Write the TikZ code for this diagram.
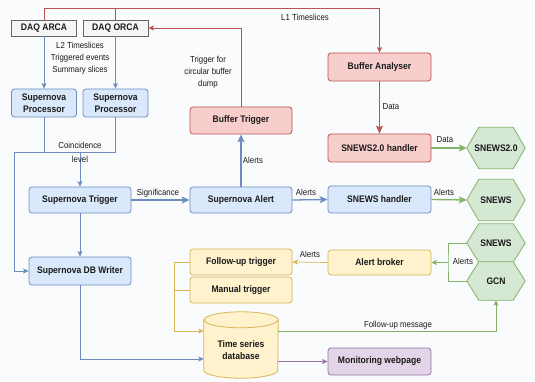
\documentclass[tikz,border=0pt]{standalone}
\usepackage{fontspec}
\setmainfont{Liberation Sans}
\newfontfamily\lblfont[FakeStretch=0.9]{Liberation Sans}
\usetikzlibrary{arrows.meta,calc}
\pgfdeclarelayer{bg}
\pgfsetlayers{bg,main}
\definecolor{blueF}{HTML}{DAE8FC}\definecolor{blueD}{HTML}{6C8EBF}
\definecolor{redF}{HTML}{F8CECC}\definecolor{redD}{HTML}{B85450}
\definecolor{greenF}{HTML}{D5E8D4}\definecolor{greenD}{HTML}{82B366}
\definecolor{yelF}{HTML}{FFF2CC}\definecolor{yelD}{HTML}{D6B656}
\definecolor{purF}{HTML}{E1D5E7}\definecolor{purD}{HTML}{9673A6}
\definecolor{grayF}{HTML}{F5F5F5}\definecolor{grayD}{HTML}{666666}
\definecolor{bgC}{HTML}{FAFBFC}
\definecolor{txt}{HTML}{1A1A1A}
\tikzset{
  boxfont/.style={font=\lblfont\bfseries\fontsize{9.5}{12}\selectfont},
  box/.style={draw, rounded corners=3pt, line width=0.8pt, boxfont, align=center, inner sep=1pt, text=txt},
  bluebox/.style={box, fill=blueF, draw=blueD},
  redbox/.style={box, fill=redF, draw=redD},
  yelbox/.style={box, fill=yelF, draw=yelD},
  purbox/.style={box, fill=purF, draw=purD},
  daq/.style={draw=grayD, fill=grayF, line width=0.8pt, boxfont, inner sep=1pt, text=txt, minimum width=65pt, minimum height=16pt},
  hexnode/.style={boxfont, inner sep=0pt, text=txt},
  hexdraw/.style={draw=greenD, fill=greenF, line width=0.8pt, line join=miter},
  lbl/.style={font=\lblfont\fontsize{8.7}{12}\selectfont, align=center, text=txt, inner sep=1pt},
  thin/.style={line width=0.7pt, -{Stealth[length=5.5pt,width=5pt,inset=1.2pt]}},
  thk/.style={line width=1.3pt, -{Stealth[length=8pt,width=7pt,inset=1.8pt]}},
  plain/.style={line width=0.7pt},
}
\begin{document}
\begin{tikzpicture}[x=1pt,y=-1pt]
\useasboundingbox (0,0) rectangle (535,382);

% nodes
\node[daq] (arca) at (44,28) {DAQ ARCA};
\node[daq] (orca) at (115.5,28) {DAQ ORCA};
\node[bluebox, minimum width=65pt, minimum height=28pt] (proc1) at (44,103) {Supernova\\Processor};
\node[bluebox, minimum width=65pt, minimum height=28pt] (proc2) at (115.5,103) {Supernova\\Processor};
\node[bluebox, minimum width=102pt, minimum height=26pt] (trigger) at (80,200) {Supernova Trigger};
\node[bluebox, minimum width=102pt, minimum height=26pt] (alert) at (241,200) {Supernova Alert};
\node[redbox, minimum width=102pt, minimum height=27pt] (buftrig) at (241,120.5) {Buffer Trigger};
\node[redbox, minimum width=103pt, minimum height=28pt] (bufan) at (379.5,67) {Buffer Analyser};
\node[redbox, minimum width=103pt, minimum height=28pt] (s2h) at (379.5,148) {SNEWS2.0 handler};
\node[bluebox, minimum width=103pt, minimum height=27pt] (snh) at (379.5,199.5) {SNEWS handler};
\node[yelbox, minimum width=103pt, minimum height=25pt] (brok) at (379.5,262.5) {Alert broker};
\node[yelbox, minimum width=102pt, minimum height=26pt] (fut) at (241,262) {Follow-up trigger};
\node[yelbox, minimum width=102pt, minimum height=26pt] (man) at (241,290) {Manual trigger};
\node[bluebox, minimum width=102pt, minimum height=28pt] (dbw) at (80,271) {Supernova DB Writer};
\node[purbox, minimum width=103pt, minimum height=27pt] (mon) at (379.5,361.5) {Monitoring webpage};

\node[hexnode, minimum width=58pt, minimum height=41pt] (hs2) at (496,148) {SNEWS2.0};
\node[hexnode, minimum width=58pt, minimum height=41pt] (hsn) at (496,200) {SNEWS};
\node[hexnode, minimum width=58pt, minimum height=38pt] (hsn2) at (496,243) {SNEWS};
\node[hexnode, minimum width=58pt, minimum height=38pt] (hgcn) at (496,281) {GCN};

\node[inner sep=0pt, minimum width=74pt, minimum height=66pt] (db) at (241,345) {};
\node[boxfont, align=center, text=txt, inner sep=0pt] (dbtext) at (241,350.5) {Time series\\database};

\begin{pgfonlayer}{bg}
\fill[bgC] (0,0) rectangle (535,382);
\foreach \h in {hs2,hsn,hsn2,hgcn}{
  \draw[hexdraw] (\h.west) -- ([xshift=12pt]\h.north west) -- ([xshift=-12pt]\h.north east)
    -- (\h.east) -- ([xshift=-12pt]\h.south east) -- ([xshift=12pt]\h.south west) -- cycle;
}
\draw[draw=yelD, fill=yelF, line width=0.8pt]
  ([yshift=-8pt]db.north west) -- ([yshift=8pt]db.south west)
  arc[start angle=180, end angle=360, x radius=37pt, y radius=8pt]
  -- ([yshift=-8pt]db.north east)
  arc[start angle=0, end angle=180, x radius=37pt, y radius=8pt] -- cycle;
\draw[draw=yelD, line width=0.8pt] ([yshift=-8pt]db.north west)
  arc[start angle=180, end angle=360, x radius=37pt, y radius=8pt];
\end{pgfonlayer}

% helper coordinates
\coordinate (rTop) at (379.5,8);
\coordinate (jL) at (14,152);
\coordinate (jM) at (80,152);
\coordinate (y359) at (0,359);
\coordinate (yb) at (174,331);
\coordinate (gbr) at (448,262.5);

% red connectors
\draw[thin, draw=redD, color=redD] (arca.north) |- (rTop) -- (bufan.north);
\draw[plain, draw=redD] (orca.north) -- (orca.north |- rTop);
\draw[thin, draw=redD, color=redD] (buftrig.north) |- (orca.east);
\draw[thk, draw=redD, color=redD] (bufan.south) -- (s2h.north);

% blue connectors
\draw[thin, draw=blueD, color=blueD] (arca.south) -- (proc1.north);
\draw[thin, draw=blueD, color=blueD] (orca.south) -- (proc2.north);
\draw[plain, draw=blueD] (proc2.south) |- (jL);
\draw[plain, draw=blueD] (proc1.south) -- (proc1.south |- jL);
\draw[thin, draw=blueD, color=blueD] (jL) |- (dbw.west);
\draw[thin, draw=blueD, color=blueD] (jM) -- (trigger.north);
\draw[thk, draw=blueD, color=blueD] (trigger.east) -- (alert.west);
\draw[thk, draw=blueD, color=blueD] (alert.north) -- (buftrig.south);
\draw[thk, draw=blueD, color=blueD] (alert.east) -- (snh.west);
\draw[thin, draw=blueD, color=blueD] (trigger.south) -- (dbw.north);
\draw[thin, draw=blueD, color=blueD] (dbw.south) |- (db.west |- y359);

% green connectors
\draw[thk, draw=greenD, color=greenD] (s2h.east) -- (hs2.west);
\draw[thk, draw=greenD, color=greenD] (snh.east) -- (hsn.west);
\draw[plain, draw=greenD] (hsn2.west) -| (gbr) |- (hgcn.west);
\draw[thin, draw=greenD, color=greenD] (gbr) -- (brok.east);
\draw[thin, draw=greenD, color=greenD] (db.east |- yb) -| (hgcn.south);

% yellow connectors
\draw[thin, draw=yelD, color=yelD] (brok.west) -- (fut.east);
\draw[thin, draw=yelD, color=yelD] (fut.west) -| (yb) -- (db.west |- yb);
\draw[plain, draw=yelD] (man.west) -- (man.west -| yb);

% purple connector
\draw[thin, draw=purD, color=purD] (db.east |- mon) -- (mon.west);

% labels
\node[lbl] (lL1) at (305,17) {L1 Timeslices};
\node[lbl] (lL2) at (80,58) {L2 Timeslices\\Triggered events\\Summary slices};
\node[lbl] (lTrg) at (208,72) {Trigger for\\circular buffer\\dump};
\node[lbl] (lData1) at (391,107) {Data};
\node[lbl, align=center] (lCoin) at (80,152) {Coincidence\\[2pt]level};
\node[lbl] (lSig) at (158,193) {Significance};
\node[lbl] (lAl1) at (253,160) {Alerts};
\node[lbl] (lAl2) at (306,192) {Alerts};
\node[lbl] (lData2) at (445,140) {Data};
\node[lbl] (lAl3) at (444,192) {Alerts};
\node[lbl] (lAl4) at (463,261) {Alerts};
\node[lbl] (lAl5) at (310,254) {Alerts};
\node[lbl] (lFol) at (398,325) {Follow-up message};
\end{tikzpicture}
\end{document}
